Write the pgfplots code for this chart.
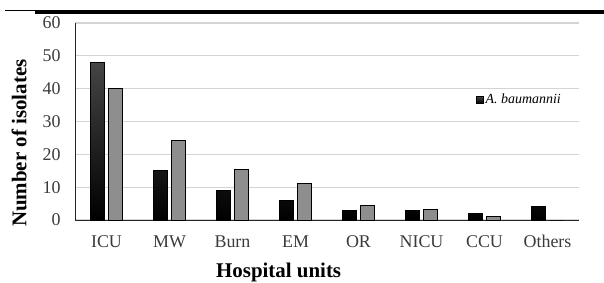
\documentclass[border=0pt]{standalone}
\usepackage{pgfplots}
\pgfplotsset{compat=1.18}
\usepackage{fontspec}
\setmainfont{Liberation Serif}
\definecolor{lightbar}{HTML}{8E8E8E}
\definecolor{darktop}{HTML}{454545}
\definecolor{gridc}{HTML}{D4D4D4}
\definecolor{tickc}{HTML}{3A3A3A}
\begin{document}
\begin{tikzpicture}[x=1bp,y=1bp]
\useasboundingbox (0,0) rectangle (604,282);
\draw[black, line width=0.8bp] (5,272) -- (35,272);
\draw[black, line width=3.5bp] (35,270) -- (604,270);
\begin{axis}[
  at={(75bp,62bp)}, anchor=south west,
  scale only axis, width=504bp, height=197bp,
  xmin=-0.5, xmax=7.5, ymin=0, ymax=60,
  ytick={0,10,...,60},
  xtick={0,...,7},
  xticklabels={ICU,MW,Burn,EM,OR,NICU,CCU,Others},
  ymajorgrids, grid style={gridc, line width=1.2bp},
  axis x line*=bottom, axis y line*=left,
  axis line style={black!85, line width=0.9bp, -},
  major tick length=0pt,
  /pgf/number format/assume math mode=true,
  ticklabel style={font=\fontsize{18}{18}\selectfont, text=tickc},
  xticklabel style={yshift=-12bp},
  yticklabel style={xshift=-11bp},
  xlabel={\textbf{Hospital units}},
  ylabel={\textbf{Number of isolates}},
  label style={font=\fontsize{21}{21}\selectfont},
  xlabel style={at={(axis description cs:0.404,-0.264)}, anchor=center},
  ylabel style={at={(axis description cs:-0.111,0.39)}, anchor=center, rotate=0},
  ybar, bar width=14bp,
  legend style={draw=none, fill=none, at={(0.795,0.61)}, anchor=west,
    font=\fontsize{14}{14}\selectfont\itshape, inner sep=0pt},
  legend image code/.code={\fill[black] (0bp,-3.5bp) rectangle (7bp,3.5bp);},
]
\addplot[bar shift=-9bp, draw=black, line width=0.8bp, top color=darktop, bottom color=black]
  coordinates {(0,48) (1,15) (2,9) (3,6) (4,3) (5,3) (6,2) (7,4)};
\addlegendentry{A. baumannii}
\addplot[bar shift=9bp, draw=black, line width=0.8bp, fill=lightbar, forget plot]
  coordinates {(0,40) (1,24.2) (2,15.3) (3,11) (4,4.3) (5,3.3) (6,1) (7,0)};
\end{axis}
\end{tikzpicture}
\end{document}
